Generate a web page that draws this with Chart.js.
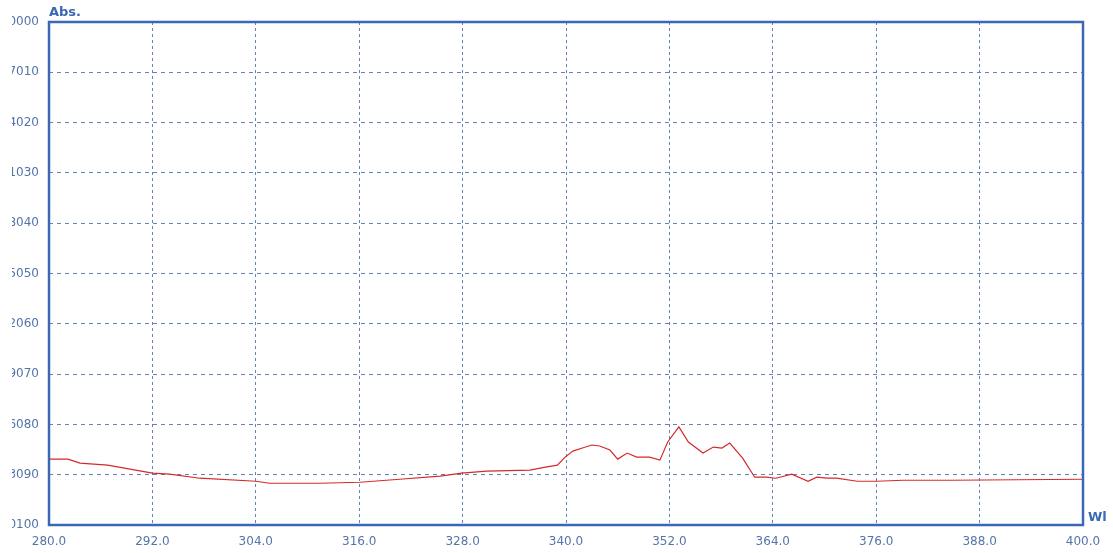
<!DOCTYPE html>
<html>
<head>
<meta charset="utf-8">
<script src="https://cdn.jsdelivr.net/npm/chart.js@4/dist/chart.umd.min.js"></script>
<style>
  html, body { margin: 0; padding: 0; background: #ffffff; }
  #wrap { width: 1113px; height: 553px; position: relative; }
</style>
</head>
<body>
<div id="wrap"><canvas id="c"></canvas></div>
<script>
// Wavelength (nm) of the traced points
const wavelengths = [280.0, 282.2, 283.6, 286.8, 292.0, 294.0, 297.5, 304.0, 305.6, 311.4,
  316.1, 320.7, 325.4, 327.9, 330.8, 335.8, 337.6, 339.0, 339.9, 340.8,
  341.9, 343.0, 343.9, 345.1, 346.0, 347.1, 348.2, 349.7, 350.9, 351.8,
  353.1, 354.2, 355.9, 357.1, 358.1, 359.0, 360.5, 361.9, 363.3, 364.3,
  364.8, 366.2, 368.1, 369.1, 370.3, 371.4, 373.8, 376.1, 379.1, 384.6, 400.0];
// Absorbance values
const absorbance = [-0.00869, -0.00869, -0.00877, -0.00881, -0.00897, -0.00899, -0.00907, -0.00913, -0.00917, -0.00917,
  -0.00915, -0.00909, -0.00903, -0.00897, -0.00893, -0.00891, -0.00885, -0.00881, -0.00865, -0.00853,
  -0.00847, -0.00841, -0.00843, -0.00851, -0.00869, -0.00857, -0.00865, -0.00865, -0.00871, -0.00835,
  -0.00805, -0.00835, -0.00857, -0.00845, -0.00847, -0.00837, -0.00867, -0.00905, -0.00905, -0.00907,
  -0.00905, -0.00899, -0.00913, -0.00905, -0.00907, -0.00907, -0.00913, -0.00913, -0.00911, -0.00911, -0.00909];
// Visible (left-truncated) y tick labels, top to bottom
const yTickLabels = ["0000", "7010", "4020", "1030", "8040", "5050", "2060", "9070", "6080", "3090", "0100"];
// X tick values
const xTicks = [280, 292, 304, 316, 328, 340, 352, 364, 376, 388, 400];
const yAxisTitle = "Abs.";
const xAxisTitle = "Wl";

const points = wavelengths.map((w, i) => ({ x: w, y: absorbance[i] }));

const frameColor = '#3a68b4';
const tickColor = '#5474aa';
const gridColor = '#6482b4';

const framePlugin = {
  id: 'frame',
  afterDraw(chart) {
    const { ctx, chartArea: a } = chart;
    ctx.save();
    // clip effect on the left of the y labels
    ctx.fillStyle = '#ffffff';
    ctx.fillRect(0, 0, 12, 553);
    ctx.strokeStyle = frameColor;
    ctx.lineWidth = 2.5;
    ctx.strokeRect(a.left, a.top, a.right - a.left, a.bottom - a.top);
    ctx.fillStyle = frameColor;
    ctx.font = 'bold 13px "DejaVu Sans"';
    ctx.textBaseline = 'middle';
    ctx.textAlign = 'left';
    ctx.fillText(yAxisTitle, a.left, 13);
    ctx.fillText(xAxisTitle, a.right + 5, a.bottom - 7);
    ctx.restore();
  }
};

new Chart(document.getElementById('c'), {
  type: 'line',
  data: {
    datasets: [{
      data: points,
      borderColor: '#d42a2a',
      borderWidth: 1.2,
      pointRadius: 0,
      fill: false,
      tension: 0
    }]
  },
  options: {
    responsive: true,
    maintainAspectRatio: false,
    animation: false,
    layout: { padding: { top: 22, right: 30, left: 0, bottom: 0 } },
    plugins: { legend: { display: false }, tooltip: { enabled: false } },
    scales: {
      x: {
        type: 'linear',
        min: 280, max: 400,
        afterBuildTicks(scale) { scale.ticks = xTicks.map(v => ({ value: v })); },
        afterFit(scale) { scale.height = 28; },
        ticks: {
          color: tickColor,
          font: { family: '"DejaVu Sans"', size: 12 },
          padding: 10,
          maxRotation: 0,
          autoSkip: false,
          callback: v => Number(v).toFixed(1)
        },
        grid: { color: gridColor, lineWidth: 1, drawTicks: false, tickLength: 0 },
        border: { display: false, dash: [3, 3] }
      },
      y: {
        type: 'linear',
        min: -0.01, max: 0,
        afterBuildTicks(scale) {
          scale.ticks = yTickLabels.map((_, k) => ({ value: -k * 0.001 }));
        },
        afterFit(scale) { scale.width = 49; },
        ticks: {
          color: tickColor,
          font: { family: '"DejaVu Sans"', size: 12 },
          padding: 10,
          autoSkip: false,
          callback: v => yTickLabels[Math.round(-v / 0.001)]
        },
        grid: { color: gridColor, lineWidth: 1, drawTicks: false, tickLength: 0 },
        border: { display: false, dash: [4, 4] }
      }
    }
  },
  plugins: [framePlugin]
});
</script>
</body>
</html>
